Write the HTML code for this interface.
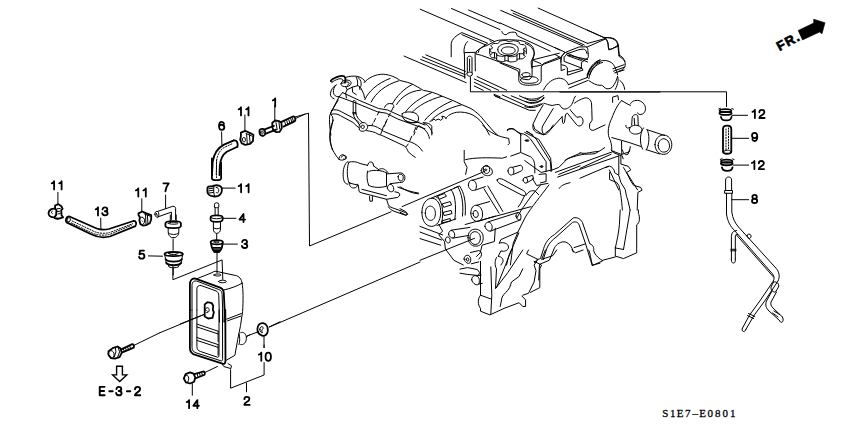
<!DOCTYPE html>
<html><head><meta charset="utf-8">
<style>
html,body{margin:0;padding:0;background:#fff;width:850px;height:425px;overflow:hidden}
svg{display:block}
.k{stroke-width:1.8}
.th{stroke-width:0.8}
.f{fill:#000}
.ar{stroke-width:1.4;stroke-linejoin:miter}
.dash{stroke-width:1;stroke-dasharray:1.2 1.6}
.w{fill:#fff}
</style></head><body>
<svg width="850" height="425" viewBox="0 0 850 425">
<g class="e" fill="none" stroke="#000" stroke-width="1.0" stroke-linecap="round" stroke-linejoin="round">
<path d="M 420.2 9.2 L 494.1 41.2"/>
<path d="M 451.5 8.5 L 500.0 29.6"/>
<path d="M 468.6 10.0 L 500.0 23.5"/>
<path d="M 490.0 40.9 L 491.2 41.5"/>
<path d="M 501.8 31.5 C 502.4 33.8 504.1 35.0 506.5 34.6 C 507.6 32.6 512.4 31.5 515.9 32.6 L 517.3 35.8 L 550.0 51.1"/>
<path d="M 451.2 56.8 L 451.2 43.8 C 451.8 39.1 455.9 35.6 461.8 32.6 L 487.6 43.2 L 479.2 49.5 L 478.2 52.6"/>
<path d="M 461.8 34.6 L 485.3 44.8"/>
<path d="M 464.1 53.2 C 463.5 48.5 464.7 43.8 467.6 41.5"/>
<path d="M 465.3 52.6 L 475.3 52.3"/>
<path d="M 475.1 53.0 L 475.3 70.9"/>
<path d="M 538.2 8.1 L 603.9 37.6 C 605.4 37.4 605.6 38.3 604.4 38.8 L 587.6 43.4"/>
<path d="M 586.6 47.2 L 605.9 38.8"/>
<path d="M 555.0 47.7 L 564.9 52.1 L 561.4 57.1 L 560.9 62.0"/>
<path d="M 565.9 52.6 L 587.6 62.0"/>
<path d="M 567.8 55.1 L 587.6 59.5"/>
<path d="M 603.9 37.6 C 607.4 37.3 612.3 37.8 615.3 40.3 C 617.3 42.2 618.2 44.7 618.2 48.7 L 619.2 56.6 C 621.2 57.6 623.2 59.0 625.0 61.5"/>
<path d="M 605.9 39.3 C 607.4 40.8 608.4 43.7 608.4 47.7 C 608.9 49.6 610.3 49.6 612.3 48.7 L 618.2 45.2"/>
<path d="M 560.8 57.7 L 561.6 56.1 C 563.2 54.0 564.9 52.8 566.5 51.9 L 578.9 47.0 L 586.3 46.8 C 587.5 47.4 587.9 48.6 587.9 50.7 L 588.1 53.6"/>
<path d="M 564.9 56.5 L 566.9 53.8 L 578.9 49.7 L 583.4 49.1 C 585.5 49.5 586.5 50.7 586.7 53.2"/>
<path d="M 567.4 55.6 L 581.4 60.6"/>
<path d="M 560.8 57.7 L 561.2 70.5"/>
<path d="M 564.1 56.9 L 564.1 61.4 L 581.4 68.0"/>
<path d="M 561.6 64.7 L 565.7 65.9 L 567.4 68.0 L 567.4 75.0"/>
<path d="M 561.6 70.5 L 564.9 69.2"/>
<path d="M 567.4 72.1 L 582.2 68.4 L 583.0 70.1 L 568.2 75.0"/>
<path d="M 588.1 53.6 L 588.4 56.5 L 587.9 58.1 L 583.8 60.2 L 583.4 61.4 L 581.4 62.2 L 581.4 68.0"/>
<path d="M 555.0 54.4 L 560.8 57.7"/>
<path d="M 587.1 75.0 C 589.6 67.2 593.7 62.2 600.0 59.8"/>
<path d="M 589.6 75.0 C 591.2 68.8 595.4 63.9 600.0 62.2"/>
<path d="M 500.0 22.9 L 560.0 50.0"/>
<path d="M 525.3 43.5 C 530.6 45.3 534.1 49.4 534.4 54.1 L 532.4 61.2 L 532.0 68.2"/>
<path d="M 500.0 62.9 L 517.6 70.6 L 518.8 72.9 L 518.8 80.6 C 519.4 84.1 523.5 85.3 529.4 85.3 L 536.5 84.7 C 540.0 84.1 541.2 81.8 541.2 80.0 L 541.2 67.1 L 543.5 63.5 L 559.4 57.1"/>
<path d="M 520.6 80.0 C 520.6 77.6 524.7 76.5 529.4 76.5 C 534.1 76.5 538.2 77.6 538.2 80.0 C 538.2 82.4 534.1 83.3 529.4 83.3 C 524.7 83.3 520.6 82.4 520.6 80.0 Z"/>
<path d="M 533.5 60.6 L 540.6 63.5"/>
<path d="M 543.5 90.0 C 547.1 82.4 552.9 78.8 558.8 78.2 C 563.5 78.2 566.5 80.6 568.2 84.1"/>
<path d="M 568.2 84.7 L 587.1 77.6"/>
<path d="M 568.8 88.2 L 587.6 80.6"/>
<path d="M 587.1 77.6 C 589.4 69.4 594.1 62.4 600.0 60.0"/>
<path d="M 587.1 77.6 C 588.2 69.4 594.1 62.4 602.4 60.6 C 607.1 60.0 611.8 61.8 613.5 64.7 C 615.3 67.1 616.5 70.6 617.6 74.7"/>
<path d="M 588.8 78.6 C 590.0 71.2 595.3 64.1 602.6 62.4"/>
<path d="M 588.8 80.6 C 592.9 83.5 596.5 85.3 600.0 85.3 C 602.4 84.7 603.5 86.5 605.3 88.2 C 607.1 89.4 610.6 88.8 612.4 87.1 C 615.3 83.5 616.5 80.0 617.6 76.5"/>
<path d="M 612.9 68.8 L 624.1 64.7"/>
<path d="M 613.5 71.2 L 624.7 67.1"/>
<path d="M 614.7 72.9 L 624.1 70.0"/>
<path d="M 617.6 76.5 C 618.8 78.8 618.2 83.5 615.3 89.4"/>
<path d="M 620.0 80.6 C 622.4 82.4 624.1 84.7 624.7 89.4"/>
<path d="M 560.0 92.0 L 660.0 92.0"/>
<path d="M 587.1 30.0 L 604.1 37.6"/>
<path d="M 604.7 38.0 C 608.2 37.1 614.1 37.6 616.5 40.6 C 618.2 42.9 618.8 46.5 618.8 50.6 L 619.4 55.3"/>
<path d="M 605.3 38.2 C 607.1 39.4 608.2 41.8 608.2 45.3 L 608.8 50.0 L 617.6 46.5"/>
<path d="M 618.8 55.3 C 622.4 55.9 624.7 59.4 625.3 64.1 C 625.3 67.6 623.5 70.0 618.8 71.2"/>
<path d="M 524.0 48.6 L 523.5 49.0 L 523.3 49.3 L 523.5 49.7 L 524.1 50.2 L 524.9 50.7 L 525.4 51.2 L 525.1 51.6 L 524.7 52.0 L 524.3 52.4 L 523.8 52.8 L 523.3 53.1 L 522.8 53.5 L 522.0 53.7 L 520.5 53.7 L 519.3 53.7 L 518.4 53.8 L 517.7 54.0 L 517.2 54.4 L 517.0 54.9 L 516.7 55.5 L 516.3 56.0 L 515.4 56.2 L 514.6 56.3 L 513.7 56.5 L 512.7 56.6 L 511.8 56.7 L 510.9 56.8 L 509.9 56.7 L 508.9 56.2 L 508.0 55.9 L 507.2 55.6 L 506.4 55.5 L 505.5 55.6 L 504.6 55.9 L 503.5 56.3 L 502.3 56.5 L 501.4 56.3 L 500.6 56.2 L 499.7 56.0 L 498.9 55.8 L 498.0 55.6 L 497.2 55.3 L 496.7 54.9 L 496.7 54.3 L 496.7 53.7 L 496.5 53.3 L 496.0 53.0 L 495.3 52.8 L 494.2 52.7 L 492.9 52.6 L 491.7 52.4 L 491.3 52.0 L 490.9 51.6 L 490.6 51.2 L 490.3 50.7 L 490.1 50.3 L 489.9 49.9 L 490.1 49.5 L 491.1 49.0 L 492.0 48.6 L 492.5 48.2 L 492.7 47.9 L 492.5 47.5 L 491.9 47.0 L 491.1 46.5 L 490.6 46.0 L 490.9 45.6 L 491.3 45.2 L 491.7 44.8 L 492.2 44.5 L 492.7 44.1 L 493.2 43.7 L 494.0 43.5 L 495.5 43.5 L 496.7 43.5 L 497.6 43.4 L 498.3 43.2 L 498.8 42.8 L 499.0 42.3 L 499.3 41.7 L 499.7 41.2 L 500.6 41.0 L 501.4 40.9 L 502.3 40.7 L 503.3 40.6 L 504.2 40.5 L 505.1 40.4 L 506.1 40.5 L 507.1 41.0 L 508.0 41.3 L 508.8 41.6 L 509.6 41.7 L 510.5 41.6 L 511.4 41.3 L 512.5 40.9 L 513.7 40.7 L 514.6 40.9 L 515.4 41.0 L 516.3 41.2 L 517.1 41.4 L 518.0 41.6 L 518.8 41.9 L 519.3 42.3 L 519.3 42.9 L 519.3 43.5 L 519.5 43.9 L 520.0 44.2 L 520.7 44.4 L 521.8 44.5 L 523.1 44.6 L 524.3 44.8 L 524.7 45.2 L 525.1 45.6 L 525.4 46.0 L 525.7 46.5 L 525.9 46.9 L 526.1 47.3 L 525.9 47.7 L 524.9 48.2 L 524.0 48.6 Z"/>
<path d="M 524.0 53.8 L 523.5 54.2 L 523.3 54.5 L 523.5 54.9 L 524.1 55.4 L 524.9 55.9 L 525.4 56.4 L 525.1 56.8 L 524.7 57.2 L 524.3 57.6 L 523.8 58.0 L 523.3 58.3 L 522.8 58.7 L 522.0 58.9 L 520.5 58.9 L 519.3 58.9 L 518.4 59.0 L 517.7 59.2 L 517.2 59.6 L 517.0 60.1 L 516.7 60.7 L 516.3 61.2 L 515.4 61.4 L 514.6 61.5 L 513.7 61.7 L 512.7 61.8 L 511.8 61.9 L 510.9 62.0 L 509.9 61.9 L 508.9 61.4 L 508.0 61.1 L 507.2 60.8 L 506.4 60.7 L 505.5 60.8 L 504.6 61.1 L 503.5 61.5 L 502.3 61.7 L 501.4 61.5 L 500.6 61.4 L 499.7 61.2 L 498.9 61.0 L 498.0 60.8 L 497.2 60.5 L 496.7 60.1 L 496.7 59.5 L 496.7 58.9 L 496.5 58.5 L 496.0 58.2 L 495.3 58.0 L 494.2 57.9 L 492.9 57.8 L 491.7 57.6 L 491.3 57.2 L 490.9 56.8 L 490.6 56.4 L 490.3 55.9 L 490.1 55.5 L 489.9 55.1 L 490.1 54.7 L 491.1 54.2 L 492.0 53.8"/>
<path d="M 523.9 50.0 L 523.9 55.2 M 519.6 53.7 L 519.6 58.9 M 517.0 54.7 L 517.0 59.9 M 508.2 56.0 L 508.2 61.2 M 504.9 55.8 L 504.9 61.0 M 496.7 53.9 L 496.7 59.1 M 494.5 52.7 L 494.5 57.9 M 526.3 48.6 L 526.3 53.8 M 489.7 48.6 L 489.7 53.8"/>
<path d="M 497.7 49.6 C 497.7 45.6 502.3 43.5 508.0 43.5 C 513.7 43.5 518.3 45.6 518.3 49.6 C 518.3 53.6 513.7 55.8 508.0 55.8 C 502.3 55.8 497.7 53.6 497.7 49.6 Z"/>
<path d="M 501.4 50.4 C 501.4 48.2 504.4 46.9 508.2 46.9 C 512.0 46.9 515.2 48.2 515.2 50.4 C 515.2 52.6 512.0 54.2 508.2 54.2 C 504.4 54.2 501.4 52.6 501.4 50.4 Z"/>
<path d="M 476.5 51.3 L 481.6 47.4 L 486.8 45.5 L 493.3 42.2 L 496.5 40.7 C 501.1 39.6 508.8 39.4 519.2 40.3 C 524.4 40.9 529.5 43.5 532.1 46.1 C 534.7 49.4 534.7 53.9 532.8 57.8 L 531.1 61.9 L 531.5 66.8"/>
<path d="M 476.5 51.3 L 475.8 53.9 L 481.6 55.4 L 519.8 69.4 L 519.8 72.0 C 519.2 75.2 519.8 77.8 523.1 79.1 L 528.2 79.8 C 530.8 79.1 532.1 77.2 532.1 74.6 L 532.1 66.8"/>
<path d="M 521.8 74.6 C 521.8 72.6 526.9 72.0 529.5 73.3 C 530.8 74.6 529.5 76.5 526.9 76.9 C 523.7 77.2 521.8 76.1 521.8 74.6 Z"/>
<path d="M 533.4 59.7 L 559.3 53.2"/>
<path d="M 532.1 66.8 L 539.9 65.5 L 559.9 58.4"/>
<path d="M 404.1 56.1 L 466.2 82.7"/>
<path d="M 420.6 59.4 L 465.3 77.1"/>
<path d="M 422.4 56.8 L 465.3 74.7"/>
<path d="M 425.9 54.9 L 465.3 71.4"/>
<path d="M 464.4 52.9 L 464.7 78.2"/>
<path d="M 338.2 100.0 L 331.2 111.8 C 330.0 113.5 330.6 114.7 332.4 116.5 C 333.5 118.8 332.4 123.5 331.2 128.2 C 329.4 135.3 330.0 142.4 332.4 150.0"/>
<path d="M 445.9 118.5 C 447.1 115.6 451.8 113.2 456.5 112.3 C 461.2 111.5 468.2 112.6 472.9 115.0 C 478.8 118.5 482.4 122.6 485.9 128.5 L 489.4 135.0"/>
<path d="M 431.8 120.9 L 434.1 119.1 L 435.3 120.3 L 438.8 119.1 L 440.6 120.3 L 442.9 118.5 L 441.8 116.2 L 444.7 116.8 L 445.9 118.5"/>
<path d="M 423.5 122.6 C 427.1 122.6 430.6 123.8 431.8 126.2 L 431.8 135.0"/>
<path d="M 494.1 94.4 L 500.0 96.8"/>
<path d="M 495.3 96.2 L 500.0 98.2"/>
<path d="M 494.1 95.4 L 529.4 110.3 L 535.3 110.3"/>
<path d="M 502.4 95.0 L 527.1 106.2 C 530.6 107.4 536.5 105.6 541.2 103.8"/>
<path d="M 511.2 95.8 L 529.4 103.2 C 532.9 103.8 538.8 102.6 541.8 100.3 L 543.5 97.4"/>
<path d="M 519.4 95.8 L 529.4 100.3 C 534.1 101.5 540.0 99.7 541.2 96.8"/>
<path d="M 507.1 129.7 C 508.2 128.5 511.8 127.9 514.1 129.1 L 521.2 135.0"/>
<path d="M 527.1 131.5 L 532.9 135.0"/>
<path d="M 555.3 172.4 L 614.1 151.2"/>
<path d="M 557.6 177.1 L 618.8 155.9"/>
<path d="M 564.7 160.6 C 567.1 158.2 571.8 157.1 576.5 155.9 L 581.2 154.7 C 585.9 153.5 590.6 154.7 595.3 153.5 L 601.2 150.0 L 604.7 147.6"/>
<path d="M 618.8 155.9 L 618.8 174.7"/>
<path d="M 609.4 170.0 L 618.8 190.0"/>
<path d="M 623.5 167.6 L 637.6 190.0"/>
<path d="M 524.7 132.4 L 538.8 139.4 L 550.6 158.2 L 551.8 170.0 L 541.2 172.4 L 524.7 160.6"/>
<path d="M 526.6 140.6 C 526.6 139.4 528.9 139.4 528.9 140.6 C 528.9 141.8 526.6 141.8 526.6 140.6 Z"/>
<path d="M 540.7 166.5 C 540.7 165.3 543.1 165.3 543.1 166.5 C 543.1 167.6 540.7 167.6 540.7 166.5 Z"/>
<path d="M 342.6 92.6 L 359.1 100.3 L 378.5 108.5 L 387.4 109.9 L 400.3 115.8 L 425.0 125.0"/>
<path d="M 339.1 96.8 L 357.9 103.8 L 377.4 111.8 L 386.2 113.2 L 397.9 119.1 L 425.0 128.8"/>
<path d="M 342.6 92.6 L 339.1 96.8 L 332.1 110.3"/>
<path d="M 331.5 110.3 C 334.4 109.1 337.9 109.7 341.5 111.8 L 352.1 117.4 C 355.0 119.1 356.8 120.3 359.1 122.6"/>
<path d="M 330.9 114.4 C 333.8 113.2 337.4 113.8 340.3 115.6 L 353.2 122.6 C 355.0 124.4 356.8 126.2 358.5 127.4"/>
<path d="M 379.1 111.5 L 377.4 115.0 M 375.6 118.5 L 373.8 122.1 M 372.6 123.8 L 372.1 125.0"/>
<path d="M 393.2 107.4 L 391.5 110.9 M 390.3 113.2 L 388.5 116.8 M 387.4 119.1 L 385.6 122.6 M 384.4 125.0 L 382.6 128.5"/>
<path d="M 417.9 126.2 L 416.2 129.7 M 415.0 132.1 L 413.8 135.0"/>
<path d="M 352.6 101.5 C 352.6 100.3 355.6 100.3 355.8 101.5 L 355.8 112.1 C 356.2 116.8 359.1 120.3 362.6 122.6"/>
<path d="M 353.2 102.6 L 353.2 113.2 C 353.8 117.9 356.8 121.5 359.7 125.0"/>
<path d="M 352.8 112.6 L 355.8 112.6 M 352.9 113.8 L 355.9 113.8"/>
<path d="M 359.1 126.2 C 359.1 123.8 361.5 122.1 364.4 122.6 C 367.4 123.8 368.5 126.8 366.8 129.1 C 365.0 131.5 361.5 132.1 359.7 130.3 Z"/>
<path d="M 360.9 126.8 C 360.9 125.6 362.4 124.8 363.6 125.2 C 364.8 126.2 364.4 127.9 363.2 128.5 C 362.1 128.8 360.9 127.9 360.9 126.8 Z"/>
<path d="M 332.1 110.3 L 329.7 115.6 C 329.1 120.3 329.7 127.4 330.9 135.0"/>
<path d="M 364.1 82.6 C 368.4 77.7 375.4 74.2 383.2 74.2 C 390.2 74.6 396.6 77.7 400.1 80.5 C 405.1 81.9 410.7 82.6 414.9 85.5 C 419.2 87.6 422.0 89.7 423.4 90.4 C 429.1 91.1 436.1 93.2 441.8 96.1 C 447.4 98.2 454.5 101.0 461.5 104.5 L 470.0 108.1 C 474.2 110.2 477.8 113.7 479.9 115.5 C 482.7 118.6 484.8 121.5 486.9 123.7 L 494.1 132.1 L 497.5 135.0"/>
<path d="M 364.8 99.6 C 368.4 91.8 376.8 83.4 390.2 78.4"/>
<path d="M 371.2 102.0 C 375.4 93.2 385.3 84.8 398.7 80.8"/>
<path d="M 392.4 103.8 C 396.6 96.1 403.6 89.0 412.1 84.5"/>
<path d="M 396.6 104.5 C 400.8 97.5 409.3 91.1 420.6 90.1"/>
<path d="M 405.8 111.6 C 410.7 104.5 420.6 97.5 431.9 92.5"/>
<path d="M 412.1 112.3 C 417.8 105.9 429.1 99.6 441.8 96.3"/>
<path d="M 424.8 120.3 C 430.5 113.0 440.4 105.9 451.6 101.1"/>
<path d="M 429.8 121.8 C 436.1 114.4 447.4 108.1 461.5 104.8"/>
<path d="M 384.6 107.4 C 385.3 105.2 387.0 103.8 389.5 103.5 L 392.4 103.8 C 393.5 104.5 394.0 105.9 393.8 107.4"/>
<path d="M 402.2 113.7 C 404.4 111.6 410.7 111.3 414.9 113.0 C 418.5 114.7 419.5 118.6 417.8 121.2 C 414.9 123.2 409.3 122.9 405.8 120.8 C 402.9 118.9 401.5 115.8 402.2 113.7 Z"/>
<path d="M 333.4 120.0 C 330.6 125.6 329.2 132.7 329.9 139.8 C 330.6 146.8 334.1 153.9 339.1 159.5"/>
<path d="M 339.1 159.5 C 338.4 157.4 339.8 155.3 342.6 154.6 C 344.7 155.0 346.1 156.7 345.4 158.8 C 344.0 160.2 341.2 160.7 339.1 159.5"/>
<path d="M 368.0 125.6 C 372.2 124.9 376.5 126.4 380.7 129.2 L 383.5 131.3 L 407.5 141.2 C 411.8 141.9 417.4 144.7 420.2 148.2 L 422.4 151.1"/>
<path d="M 366.6 130.6 C 370.8 131.3 375.1 132.0 377.9 134.1 L 382.1 135.5 L 404.7 146.1 C 406.1 147.5 407.5 149.6 408.2 151.8 C 410.4 153.9 413.2 156.0 415.3 157.4"/>
<path d="M 386.4 121.4 L 384.2 126.4 M 382.8 129.2 L 380.7 134.1"/>
<path d="M 416.0 127.1 L 413.9 132.0 M 411.8 136.2 L 409.6 141.2 M 408.2 144.0 L 406.1 146.8"/>
<path d="M 418.8 125.6 C 424.5 128.5 428.7 132.7 429.4 138.4"/>
<path d="M 423.1 122.8 C 427.3 124.2 431.5 128.5 432.2 133.4"/>
<path d="M 404.7 120.0 C 407.5 122.8 413.2 123.5 418.8 122.1"/>
<path d="M 347.9 161.6 C 344.1 163.5 342.8 170.1 343.2 176.7 C 343.6 181.4 345.1 184.2 347.9 184.2"/>
<path d="M 348.8 162.6 C 346.9 166.4 346.6 175.8 348.8 182.4"/>
<path d="M 348.8 162.2 C 352.6 161.1 356.4 161.6 360.1 163.5 L 367.6 165.4"/>
<path d="M 367.6 165.4 L 368.6 163.0 C 369.5 161.6 371.8 161.6 372.9 163.0 L 373.7 166.0"/>
<path d="M 348.8 182.9 L 358.2 185.2"/>
<path d="M 373.7 166.0 L 379.3 170.1"/>
<path d="M 367.6 171.1 C 366.7 174.8 366.7 180.5 368.6 185.2"/>
<path d="M 368.6 171.6 C 370.5 169.7 381.8 169.7 386.5 172.9"/>
<path d="M 368.6 185.2 C 371.4 188.0 382.7 188.0 386.5 186.1"/>
<path d="M 378.0 170.5 C 379.3 167.9 383.6 168.2 385.5 170.1 L 388.4 172.9"/>
<path d="M 386.5 172.9 L 386.5 186.1"/>
<path d="M 386.5 173.9 L 400.6 172.9 C 403.4 172.9 405.3 175.8 404.9 178.6 C 404.5 181.4 402.5 182.9 399.6 182.5 L 390.2 183.7"/>
<path d="M 398.1 176.7 C 398.1 174.4 400.6 173.5 402.5 175.0 C 403.8 176.7 403.4 179.9 401.5 181.0 C 399.6 181.4 398.1 179.5 398.1 176.7 Z"/>
<path d="M 387.4 188.0 C 387.4 185.2 389.3 183.9 391.2 184.4 C 393.6 185.6 394.4 189.3 393.1 191.2 C 391.2 192.7 388.0 191.2 387.4 188.0 Z"/>
<path d="M 358.2 185.2 L 359.2 191.8 L 361.1 192.7 L 386.5 199.3 L 397.8 197.4 L 400.0 195.0 L 398.7 192.7 L 394.9 191.8"/>
<path d="M 362.0 189.3 L 386.5 195.7"/>
<path d="M 369.5 196.5 L 369.9 201.2 L 372.4 201.2 L 372.4 196.5"/>
<path d="M 386.5 199.3 L 388.4 204.9 C 389.3 206.8 392.1 207.8 394.9 208.7 L 405.3 212.5 C 407.2 213.4 408.1 214.4 406.2 215.3 L 404.4 214.9 L 394.0 211.2 C 391.2 210.0 389.3 208.7 388.4 206.8"/>
<path d="M 397.8 187.1 C 405.3 189.9 410.9 191.8 418.5 193.1"/>
<path d="M 341.3 157.3 C 342.2 155.1 345.1 154.7 346.2 156.6 C 346.9 158.8 345.1 160.0 343.6 159.2"/>
<path d="M 349.8 182.4 C 348.8 185.2 350.7 188.0 353.5 188.0 C 356.4 188.0 357.9 186.1 357.3 184.2"/>
<path d="M 402.1 206.6 L 484.7 171.3"/>
<path d="M 481.2 170.6 C 481.2 167.1 484.7 165.6 488.2 166.4 C 491.8 167.8 493.2 171.3 491.8 174.1 C 489.6 176.2 485.4 176.2 483.3 174.1 C 481.9 173.0 481.2 172.0 481.2 170.6 Z"/>
<path d="M 484.7 169.9 C 484.7 168.8 486.4 168.5 486.8 169.6 C 487.0 170.7 485.4 171.3 484.7 169.9 Z"/>
<path d="M 400.0 186.8 C 405.6 190.4 411.3 193.2 418.4 193.9"/>
<path d="M 400.0 208.7 L 405.6 211.5 L 407.8 214.4 L 405.6 215.1 L 400.0 212.2"/>
<path d="M 482.6 125.0 C 486.8 130.6 495.3 135.6 505.2 137.7 L 508.7 138.4 L 509.4 143.4 L 508.0 144.8"/>
<path d="M 507.3 130.6 C 508.0 129.2 510.8 128.5 513.6 129.2 L 516.5 131.4 L 520.7 133.5"/>
<path d="M 520.7 133.5 L 520.7 151.8"/>
<path d="M 520.7 133.5 C 524.9 133.5 527.8 136.3 530.6 139.1 L 546.1 161.7 L 546.1 171.6"/>
<path d="M 526.4 131.4 C 530.6 132.8 533.4 136.3 536.2 139.1 L 550.4 161.7 L 551.1 171.6"/>
<path d="M 525.2 140.5 C 525.2 139.4 527.1 139.4 527.2 140.5 C 527.2 141.7 525.2 141.7 525.2 140.5 Z"/>
<path d="M 540.2 166.6 C 540.2 165.5 542.0 165.5 542.2 166.6 C 542.2 167.8 540.2 167.8 540.2 166.6 Z"/>
<path d="M 464.2 150.4 L 464.2 161.7 L 467.1 167.4 L 465.6 174.4"/>
<path d="M 465.6 159.6 C 474.1 157.5 488.2 157.5 502.4 158.2 L 506.6 156.8"/>
<path d="M 510.8 156.1 L 520.7 152.5 L 530.6 156.8 C 533.4 158.9 534.8 161.7 534.8 167.4 L 534.8 173.0"/>
<path d="M 508.0 170.9 C 508.0 168.1 510.1 166.6 512.2 167.4 C 514.4 168.8 514.4 173.0 512.5 174.7 C 510.5 175.8 508.0 174.1 508.0 170.9 Z"/>
<path d="M 512.2 167.4 L 520.7 165.2 C 522.8 165.9 523.2 169.5 521.4 170.9 L 513.6 174.4"/>
<path d="M 551.8 170.2 L 558.8 167.4 L 564.5 161.7 L 567.3 158.9 L 580.0 153.2"/>
<path d="M 558.8 174.4 L 580.0 165.9"/>
<path d="M 533.4 125.0 L 534.8 129.2 L 543.3 134.9 L 550.4 129.2 L 553.2 125.0"/>
<path d="M 539.1 174.4 L 546.1 173.7 L 546.1 181.5 L 540.5 182.9"/>
<path d="M 580.0 168.4 L 611.1 154.2"/>
<path d="M 580.0 178.2 L 608.2 166.2"/>
<path d="M 620.9 155.6 L 620.9 164.1 L 628.0 166.2 L 630.8 169.8 L 626.6 172.6 L 630.8 181.1 L 633.6 185.3 L 640.7 187.4 L 642.1 190.2 L 637.9 192.4 L 637.2 210.0"/>
<path d="M 605.4 167.6 L 609.6 166.2 C 612.5 166.9 614.6 169.8 614.6 172.6 L 618.8 175.4 L 620.9 182.5 L 625.2 189.5 L 626.6 196.6 L 628.0 200.8 L 630.1 210.0"/>
<path d="M 609.6 172.6 L 609.6 179.6 L 616.7 182.5 L 618.8 185.3 C 620.2 189.5 621.6 199.4 622.4 210.0"/>
<path d="M 580.0 152.8 C 584.2 154.2 588.5 152.8 592.7 152.1 L 598.4 151.4"/>
<path d="M 611.1 150.0 L 613.9 152.8 L 620.9 155.6"/>
<path d="M 622.4 150.0 C 623.8 154.2 625.2 155.6 628.0 154.2 L 629.4 150.0"/>
<path d="M 480.5 261.3 L 480.5 295.2 C 477.6 298.9 477.6 304.6 480.5 308.4 L 480.5 311.2 L 489.9 314.9 L 504.0 308.4 L 519.1 302.7 L 522.8 306.5 L 525.6 306.5 L 525.6 299.9 L 521.9 296.1"/>
<path d="M 490.8 266.9 L 491.8 295.2 L 490.8 314.0"/>
<path d="M 480.5 295.2 L 490.8 298.9"/>
<path d="M 496.5 257.5 C 494.6 261.3 494.6 265.1 496.5 268.8 L 495.5 288.6 L 502.1 280.1 L 507.8 272.6 L 522.8 250.0"/>
<path d="M 511.5 250.0 L 496.5 287.6"/>
<path d="M 500.2 306.5 L 502.1 297.1 C 504.0 293.3 507.8 291.4 509.6 287.6 L 511.5 282.0 L 519.1 276.4 L 522.8 268.8"/>
<path d="M 528.5 250.0 L 526.6 253.8 L 537.9 259.4 L 534.1 265.1 L 536.0 270.7 L 534.1 282.0 L 528.5 293.3 L 522.8 295.2"/>
<path d="M 534.1 261.3 L 541.6 265.1 L 539.8 268.8 L 539.8 287.6 L 530.4 292.4"/>
<path d="M 545.4 250.0 L 541.6 259.4 L 552.9 255.6 L 556.7 250.0"/>
<path d="M 571.8 250.0 L 575.5 252.8 L 583.1 250.0"/>
<path d="M 588.7 250.0 C 590.6 253.8 590.6 259.4 592.5 265.1 L 600.0 263.2"/>
<path d="M 543.8 103.2 C 546.2 103.8 548.5 104.9 552.1 105.5 C 555.6 104.9 557.9 103.8 559.7 104.9 C 560.9 107.3 562.6 109.1 565.0 109.1 C 568.5 108.5 571.5 106.1 573.2 101.4 C 573.8 99.1 574.4 97.3 575.6 96.1"/>
<path d="M 543.2 104.9 L 537.9 113.8 L 533.2 123.8 C 532.1 127.3 533.2 130.8 536.8 132.6 L 542.6 134.4 C 545.0 134.9 546.2 134.4 547.4 133.2 L 562.1 116.7"/>
<path d="M 553.2 108.5 L 542.6 126.1 C 541.5 129.6 542.1 132.6 543.8 134.4"/>
<path d="M 562.1 116.7 L 562.6 122.6 C 562.9 123.8 563.8 123.8 564.4 122.6 L 565.6 114.4 L 567.4 113.2 L 572.1 119.1 L 576.8 124.9 C 578.5 126.7 581.5 126.1 582.6 123.8 C 583.8 120.2 582.6 117.3 580.3 116.7 L 576.8 117.3 L 570.9 110.8 L 570.3 109.6"/>
<path d="M 574.4 103.2 C 576.8 101.4 580.3 99.1 585.0 97.9 C 587.4 97.6 589.1 98.5 590.3 100.2 L 591.5 102.6 L 591.8 109.6 L 592.1 120.2 L 589.7 123.8 L 589.5 127.3 C 589.7 129.6 591.5 130.8 593.8 130.2 L 605.0 124.9"/>
<path d="M 525.0 97.9 C 529.7 100.2 537.9 99.6 543.8 95.5"/>
<path d="M 525.0 101.4 C 530.9 103.8 539.1 102.6 544.4 97.9"/>
<path d="M 525.0 106.7 C 529.7 108.5 536.8 107.9 542.6 103.8"/>
<path d="M 534.6 262.7 C 535.4 259.4 538.7 259.4 540.4 258.6 L 543.6 248.7 C 545.3 242.9 548.6 238.0 554.4 234.7 L 573.3 217.9 C 577.4 216.9 580.7 219.1 582.4 222.4 L 589.8 243.8 C 593.1 244.9 594.2 247.9 593.6 250.8 C 594.7 254.1 597.2 256.9 600.5 259.4 L 602.9 260.7 L 592.2 265.7 L 591.4 262.7"/>
<path d="M 543.2 259.7 L 546.9 248.2 C 549.1 242.9 552.4 240.0 556.0 237.2 L 572.5 222.4 C 575.8 221.2 578.2 222.4 579.1 224.8 L 585.6 243.8 L 574.1 247.6"/>
<path d="M 573.3 252.0 C 572.5 247.6 570.0 243.8 565.9 242.1 C 560.9 241.0 556.8 243.8 554.4 247.9 L 551.1 256.1 L 549.4 260.2 L 539.5 264.4 L 538.7 280.0"/>
<path d="M 585.6 243.8 L 589.8 257.8 L 591.4 262.7"/>
<path d="M 615.3 247.9 C 616.9 241.3 618.6 233.1 619.4 224.8 L 620.2 210.0"/>
<path d="M 623.5 249.5 C 625.2 239.6 626.8 229.8 628.5 219.9 L 630.1 210.0"/>
<path d="M 615.3 247.9 L 623.5 249.5"/>
<path d="M 615.3 247.9 L 615.3 256.1 L 623.5 258.6 L 636.7 252.8 L 636.7 224.8 C 640.0 223.2 640.0 216.6 638.4 213.3 L 638.4 210.0"/>
<path d="M 602.9 260.2 L 615.3 256.9"/>
<path d="M 330.8 81.1 C 331.2 79.4 334.1 78.2 337.4 76.9 C 340.2 75.9 342.7 75.5 344.4 76.5 C 345.6 77.8 345.6 80.6 344.8 82.7" class="k"/>
<path d="M 332.0 82.3 C 333.2 81.1 335.7 79.8 338.6 79.0 C 340.6 78.6 342.3 78.6 342.7 79.8 C 343.1 81.1 342.7 82.3 341.9 82.7"/>
<path d="M 330.8 81.1 C 330.9 81.9 331.6 82.5 332.0 82.3"/>
<path d="M 341.1 83.5 C 341.5 80.6 344.8 79.8 348.1 80.2 C 350.9 80.6 351.8 82.7 350.5 84.8 C 348.9 86.8 344.8 87.2 342.3 86.0 C 341.1 85.2 340.8 84.4 341.1 83.5 Z"/>
<path d="M 342.7 83.5 C 343.5 81.9 346.4 81.5 348.5 82.3 C 349.7 83.1 349.3 84.8 347.6 85.2"/>
<path d="M 345.6 77.4 C 348.9 76.1 354.6 75.7 357.9 76.5 C 361.2 77.4 363.7 79.0 365.4 81.9"/>
<path d="M 356.3 77.4 C 357.5 79.4 357.9 82.3 357.5 85.6"/>
<path d="M 357.9 77.4 C 359.6 78.6 361.2 80.6 361.2 83.9 C 361.2 86.4 360.4 87.2 359.6 87.6"/>
<path d="M 336.5 84.8 C 333.2 86.4 330.8 89.7 330.4 93.8 C 330.4 96.3 331.6 97.9 334.1 98.8"/>
<path d="M 334.9 86.4 C 333.2 88.9 332.8 92.2 334.1 94.6 C 335.3 96.3 337.4 97.1 339.4 96.7"/>
<path d="M 345.6 86.4 L 347.2 89.7 L 345.6 93.0 L 346.4 97.9"/>
<path d="M 347.2 89.7 L 352.2 87.2 L 357.9 85.6 L 360.4 87.2 L 363.7 93.8 L 364.5 97.9"/>
<path d="M 352.2 87.2 L 352.6 92.2 L 356.3 94.6"/>
<path d="M 359.6 87.6 L 360.0 89.7"/>
<path d="M 421.9 212.3 C 421.9 203.8 426.6 198.2 432.2 198.2 C 437.9 198.6 441.1 205.7 440.7 213.2 C 440.3 220.8 436.9 226.4 431.3 226.4 C 425.6 226.0 421.9 220.8 421.9 212.3 Z"/>
<path d="M 425.3 213.2 C 425.3 208.5 427.5 206.1 430.4 206.1 C 433.6 206.5 435.4 209.5 435.4 213.6 C 435.4 217.9 433.2 220.4 430.4 220.4 C 427.5 220.0 425.3 217.4 425.3 213.2 Z"/>
<path d="M 431.3 198.2 L 451.1 189.7 M 436.9 225.5 L 455.8 218.9"/>
<path d="M 435.1 196.3 C 441.6 198.2 444.5 209.5 441.6 223.6"/>
<path d="M 451.1 189.7 C 454.8 194.4 456.7 203.8 454.8 219.8"/>
<path d="M 437.9 195.9 L 444.5 193.5 L 446.4 196.3 L 439.8 199.1 Z M 442.6 203.8 L 450.1 201.6 L 451.6 204.8 L 444.1 207.2 Z M 443.5 212.3 L 451.1 210.4 L 452.0 213.6 L 444.5 215.5 Z M 442.2 220.8 L 450.1 218.5 L 450.5 221.1 L 443.0 222.6 Z"/>
<path d="M 451.1 189.7 L 459.5 185.9 C 464.2 192.5 466.1 201.9 465.2 215.1"/>
<path d="M 453.9 188.4 L 457.6 186.5 C 461.8 193.5 463.7 202.9 462.5 216.1"/>
<path d="M 470.8 213.2 C 470.8 207.6 473.6 204.8 476.8 205.3 C 480.6 206.1 483.1 210.4 482.5 216.1 C 481.7 220.4 478.7 222.3 475.5 221.1 C 472.7 220.0 470.8 217.0 470.8 213.2 Z"/>
<path d="M 473.1 213.6 C 473.1 211.4 474.6 210.0 476.1 210.6 C 478.0 211.4 478.7 214.2 478.0 216.2 C 477.0 217.8 475.0 217.8 473.8 216.2 C 473.3 215.5 473.1 214.7 473.1 213.6 Z"/>
<path d="M 476.5 205.3 L 489.6 201.6"/>
<path d="M 479.9 220.8 L 495.3 216.1"/>
<path d="M 484.0 188.8 L 499.1 213.2"/>
<path d="M 487.8 185.9 L 502.8 211.4"/>
<path d="M 484.9 226.4 C 484.9 223.6 486.8 221.7 489.3 222.3 C 491.9 223.2 493.0 227.4 491.5 230.2 C 490.0 232.1 486.3 231.1 484.9 226.4 Z"/>
<path d="M 488.1 221.9 L 517.9 212.5"/>
<path d="M 490.6 231.1 L 520.7 219.8"/>
<path d="M 516.0 216.1 C 516.0 213.6 517.5 212.3 519.0 212.7 C 520.9 213.6 521.6 217.0 520.5 219.3 C 519.2 220.8 516.4 219.3 516.0 216.1 Z"/>
<path d="M 465.2 224.5 L 531.1 206.6"/>
<path d="M 468.0 237.7 C 468.0 232.1 470.8 229.2 475.5 229.2 C 480.2 229.4 483.6 233.0 483.2 238.6 C 482.9 243.4 479.9 246.2 475.5 246.2 C 471.2 246.0 468.0 242.4 468.0 237.7 Z"/>
<path d="M 469.9 238.1 C 469.9 233.9 472.1 231.7 475.2 231.7 C 478.4 231.9 480.6 234.5 480.4 238.6 C 480.2 242.4 478.0 244.5 475.2 244.5 C 472.1 244.3 469.9 241.8 469.9 238.1 Z"/>
<path d="M 448.6 234.3 C 448.6 231.7 450.1 230.2 452.0 230.6 C 454.3 231.3 455.4 234.9 454.3 237.3 C 452.9 238.8 449.4 237.7 448.6 234.3 Z"/>
<path d="M 451.1 230.2 L 469.9 227.4"/>
<path d="M 452.9 238.1 L 468.9 235.4"/>
<path d="M 445.4 240.0 C 445.4 237.7 446.7 236.6 448.2 237.0 C 450.1 237.7 450.9 240.7 449.7 242.4 C 448.4 243.7 446.0 242.6 445.4 240.0 Z"/>
<path d="M 420.0 260.3 L 474.6 238.3"/>
<path d="M 420.0 226.4 L 442.6 234.9"/>
<path d="M 420.0 232.1 L 441.6 240.0"/>
<path d="M 420.0 238.6 L 440.7 245.2"/>
<path d="M 438.8 224.5 L 442.6 231.1 L 438.8 234.9 L 444.5 241.5 L 445.4 249.0 L 453.9 260.3 L 463.3 265.0"/>
<path d="M 517.9 232.1 L 500.9 239.6 L 499.1 243.4 C 502.8 241.5 508.5 243.4 508.5 247.1 C 508.5 250.9 503.8 251.8 500.9 250.9 L 498.1 256.5 C 501.9 256.5 503.8 259.4 502.8 262.2 L 500.9 265.0"/>
<path d="M 518.8 233.0 L 508.5 256.5 L 506.6 265.0"/>
<path d="M 548.9 185.0 C 540.5 196.3 531.1 207.6 525.4 217.0 L 517.9 232.1 L 513.2 243.4 L 510.4 265.0"/>
<path d="M 540.5 185.0 L 531.1 196.3 L 521.6 209.5 L 516.9 217.9"/>
<path d="M 495.3 228.3 L 494.4 241.5 L 482.1 245.2 L 480.2 252.8 L 476.5 256.5"/>
<path d="M 612.6 102.4 L 612.6 97.1 L 617.9 95.6 L 618.5 99.7"/>
<path d="M 621.5 100.6 C 617.9 104.1 614.4 111.2 611.8 118.2 C 608.2 125.3 607.4 132.4 609.1 137.6 C 610.9 141.2 611.8 144.7 611.8 150.9 L 621.5 154.4 L 629.4 151.8 L 630.3 146.5"/>
<path d="M 621.5 100.6 L 630.3 105.5"/>
<path d="M 630.3 104.1 C 631.2 101.5 634.7 99.7 639.1 100.6 C 643.5 102.0 646.2 105.9 645.3 110.3 C 644.4 113.8 641.8 114.7 639.1 114.4 L 637.4 112.9"/>
<path d="M 629.4 129.7 C 629.4 127.1 632.4 125.3 635.6 125.3 C 639.1 125.3 641.8 127.1 641.8 129.7 C 641.8 132.4 639.1 134.1 635.6 134.1 C 632.4 134.1 629.4 132.4 629.4 129.7 Z"/>
<path d="M 631.7 125.3 L 632.1 118.2 C 632.4 114.7 636.5 113.3 637.9 116.1 L 638.2 125.3"/>
<path d="M 634.2 118.2 L 634.7 124.9"/>
<path d="M 625.9 125.3 C 625.4 127.1 626.8 128.5 628.5 127.9 L 630.3 127.1"/>
<path d="M 643.5 127.9 C 640.0 132.4 639.1 142.9 642.6 149.1"/>
<path d="M 647.1 129.7 C 649.7 134.1 649.7 144.7 646.2 150.0"/>
<path d="M 647.1 129.7 L 664.7 135.5"/>
<path d="M 646.2 149.6 L 659.4 153.9"/>
<path d="M 655.0 144.7 C 655.0 139.4 658.5 135.0 663.5 135.0 C 668.2 135.0 671.8 139.4 671.8 144.7 C 671.8 150.0 668.2 154.4 663.5 154.4 C 658.5 154.4 655.0 150.0 655.0 144.7 Z"/>
<path d="M 658.2 145.6 C 658.2 141.5 660.8 138.7 663.8 138.7 C 667.4 139.1 669.5 142.2 669.5 145.8 C 669.5 149.6 667.0 152.1 663.8 152.1 C 660.6 152.1 658.2 149.3 658.2 145.6 Z"/>
<path d="M 611.8 137.6 L 621.5 140.3 L 630.3 142.9 L 640.9 146.5"/>
<path d="M 621.5 141.2 L 621.8 155.3 L 623.2 158.8"/>
<path d="M 587.6 43.4 L 511.0 10.0"/>
<path d="M 513.0 13.2 L 584.3 45.0"/>
<path d="M 500.7 10.4 L 582.7 45.9"/>
<path d="M 467.3 73.0 L 467.3 58.0 C 467.3 55.6 472.0 55.6 472.0 58.0 L 472.0 73.0"/>
<path d="M 466.8 73.5 C 466.8 71.6 472.5 71.6 472.5 73.5 L 472.0 75.2 C 471.0 76.6 468.0 76.6 467.3 75.2 Z"/>
<path d="M 469.6 59.0 L 469.6 71.0"/>
<path d="M 477.1 76.6 L 506.7 90.3"/>
<path d="M 474.3 79.0 L 498.7 90.3"/>
<path d="M 474.3 82.3 L 490.7 90.3"/>
<path d="M 474.3 86.0 L 483.2 90.3"/>
<path d="M 227.6 320.8 L 240.8 316.1"/>
<path d="M 242.1 283.2 C 243.3 290.0 243.3 300.0 242.6 311.5 L 240.5 325.6 L 237.7 339.7 L 234.9 355.3 L 226.6 360.1"/>
<path d="M 468.4 185.2 C 468.4 181.6 470.5 179.8 472.9 180.2 C 475.7 180.9 477.1 184.9 476.1 188.3 C 475.1 190.8 472.6 191.1 470.9 189.7 C 469.2 188.4 468.4 187.0 468.4 185.2 Z"/>
<path d="M 472.6 180.2 L 483.2 177.0 M 475.4 190.1 L 485.3 186.6"/>
<path d="M 523.1 180.2 C 523.1 178.1 524.5 177.0 526.0 177.4 C 527.6 178.1 528.1 181.2 526.9 182.8 C 525.8 183.8 523.4 182.6 523.1 180.2 Z"/>
<path d="M 526.0 177.4 L 532.6 175.3 L 533.6 178.8 L 527.6 182.4"/>
<path d="M 483.2 168.9 C 483.2 166.1 485.3 165.1 487.0 165.4 C 489.2 166.1 490.2 168.9 489.5 171.3 C 488.8 173.2 486.7 173.9 485.3 173.2 C 483.9 172.5 483.2 171.1 483.2 168.9 Z"/>
<path d="M 464.1 259.1 C 464.1 255.9 466.4 254.8 468.7 255.5 C 470.9 256.7 471.3 260.4 470.0 262.7 C 468.5 264.2 465.3 263.1 464.1 259.1 Z"/>
<path d="M 466.2 259.3 C 466.2 258.2 467.2 257.6 468.1 258.0 C 469.0 258.6 469.0 260.4 468.3 261.0 C 467.3 261.4 466.4 260.6 466.2 259.3 Z"/>
<path d="M 460.0 269.1 L 467.5 267.6 L 477.3 269.5 L 479.6 272.5 L 478.4 275.5 L 467.5 274.4 L 460.0 273.2"/>
<path d="M 471.7 279.8 C 471.7 276.6 473.9 275.1 476.6 275.9 C 479.4 277.0 480.1 281.1 478.8 284.0 C 477.3 285.8 472.8 284.5 471.7 279.8 Z"/>
<path d="M 476.6 275.9 L 481.1 275.1 M 478.8 284.0 L 482.2 283.4"/>
<path d="M 470.4 252.5 L 478.8 250.6 C 481.1 251.0 482.2 253.5 481.1 256.3 L 478.8 259.1"/>
<path d="M 471.3 263.8 L 478.8 261.9"/>
<path d="M 497.1 179.9 C 497.8 178.2 500.6 178.2 503.4 179.6 L 523.2 190.5 C 526.0 191.9 526.4 194.7 524.6 195.7 L 521.8 195.1 L 502.0 184.8 C 499.2 183.4 497.1 182.0 497.1 179.9 Z"/>
<path d="M 524.6 195.7 L 520.4 203.9 L 518.2 207.0"/>
<path d="M 526.0 195.4 C 528.1 191.2 532.4 189.8 535.2 191.2 L 538.7 194.7"/>
<path d="M 532.4 178.5 L 536.6 185.5 L 547.9 183.4"/>
<path d="M 559.2 188.4 C 560.6 186.2 563.4 184.1 570.0 182.7"/>
<path d="M 470.4 77.0 L 470.4 91.8 L 726.5 91.8 L 726.5 106.5"/>
<path d="M 731.8 115.3 L 747.6 115.3"/>
<path d="M 731.7 138.3 L 748.7 138.3"/>
<path d="M 733.2 165.1 L 748.7 165.1"/>
<path d="M 731.8 199.7 L 748.7 199.7"/>
<path d="M 295.0 117.0 L 308.5 113.2 L 309.5 246.0 L 391.0 211.8"/>
<path d="M 269.5 327.0 L 420.0 262.0"/>
<path d="M 719.6 110.8 C 719.6 108.6 731.4 108.6 731.4 110.8 C 731.4 112.6 719.6 112.6 719.6 110.8 Z" class="k"/>
<path d="M 719.4 113.2 C 719.4 111.4 731.6 111.4 731.6 113.2 C 731.6 115.4 719.4 115.4 719.4 113.2 Z" class="k"/>
<path d="M 718.8 109.0 L 720.5 108.3 M 733.4 109.2 L 731.8 108.5"/>
<path d="M 721.0 117.0 C 721.5 121.5 731.0 121.5 731.5 117.0" class="k"/>
<path d="M 721.0 161.2 C 721.0 159.0 732.4 159.0 732.4 161.2 C 732.4 163.0 721.0 163.0 721.0 161.2 Z" class="k"/>
<path d="M 720.8 163.6 C 720.8 161.8 732.6 161.8 732.6 163.6 C 732.6 165.8 720.8 165.8 720.8 163.6 Z" class="k"/>
<path d="M 720.3 159.4 L 722.0 158.7 M 734.2 159.6 L 732.6 158.9"/>
<path d="M 722.0 167.4 C 722.5 171.9 732.0 171.9 732.5 167.4" class="k"/>
<path d="M 723.0 151.5 L 723.0 129.0 C 723.0 124.5 731.3 124.5 731.3 129.0 L 731.3 151.5 C 731.3 154.5 723.0 154.5 723.0 151.5 Z" class="k"/>
<path d="M 723.6 151.8 C 724.0 149.5 730.6 149.5 730.8 151.8"/>
<path d="M 726.0 129.0 L 726.0 150.0 M 728.5 128.0 L 728.5 150.0" class="dash"/>
<path d="M 725.6 190.5 L 725.6 180.0 C 725.6 176.0 731.6 176.0 731.6 180.0 L 731.6 190.5"/>
<path d="M 725.0 190.5 L 732.5 190.5 L 732.5 193.3 L 725.0 193.3 Z"/>
<path d="M 726.5 193.3 L 726.5 214.0 C 727.5 222.0 731.0 227.0 734.5 230.5 L 772.5 273.9 C 774.5 276.5 774.5 279.0 773.0 281.5 L 760.5 300.0 L 749.4 315.3 L 742.4 328.2"/>
<path d="M 731.8 193.3 L 731.8 212.0 C 732.5 218.0 735.0 223.0 738.5 227.0 L 776.0 268.2 C 779.5 272.0 780.0 277.0 778.0 281.0 L 765.4 300.0 L 754.1 315.3 L 745.9 329.4"/>
<path d="M 736.5 235.0 L 773.5 277.0"/>
<path d="M 742.4 328.2 C 741.0 332.0 745.0 333.0 745.9 329.4"/>
<path d="M 748.5 313.5 L 754.8 316.5 M 747.6 315.6 L 753.7 318.6"/>
<path d="M 773.5 282.0 L 771.0 287.0 C 770.5 290.0 773.0 292.5 775.5 292.0 L 778.5 287.0 C 779.5 284.0 777.0 281.0 773.5 282.0 Z"/>
<path d="M 772.0 291.0 L 766.5 301.0 C 765.0 305.0 766.0 308.0 769.0 311.0 L 779.5 320.5"/>
<path d="M 776.5 292.0 L 771.0 302.0 C 770.5 304.5 771.0 306.0 773.0 308.0 L 782.5 317.0"/>
<path d="M 779.5 320.5 C 780.5 324.5 785.0 322.0 782.5 317.0"/>
<path d="M 774.0 311.0 L 779.5 314.5 M 772.5 313.0 L 778.0 317.0"/>
<path d="M 731.4 259.0 L 731.4 236.5 C 731.6 232.5 733.5 230.5 736.5 230.5"/>
<path d="M 735.3 259.0 L 735.3 237.0 C 735.3 235.0 736.0 234.0 737.8 234.5"/>
<path d="M 731.4 259.0 L 731.6 261.5 C 732.0 263.5 735.0 263.5 735.2 261.5 L 735.3 259.0"/>
<path d="M 730.8 249.3 L 736.0 249.3 M 730.8 250.8 L 736.0 250.8"/>
<path d="M 747.0 235.5 C 747.0 233.5 751.0 233.5 751.0 236.0 C 751.0 239.5 747.5 239.5 747.0 235.5 Z"/>
<path d="M 57.9 192.4 L 57.9 203.6"/>
<path d="M 55.5 208.8 C 52.2 207.9 48.9 209.8 48.5 213.1 C 48.5 215.4 50.4 217.3 53.2 217.3" class="k"/>
<path d="M 52.2 211.2 C 51.1 211.6 51.1 213.1 52.2 213.5"/>
<path d="M 55.1 205.5 L 58.4 204.1 L 61.6 206.5 L 62.6 208.8 L 61.2 210.2 L 61.6 215.4 L 63.1 217.3 L 58.8 218.7 L 55.1 218.2 L 54.1 217.3 L 56.0 215.4 L 56.5 210.2 L 55.1 208.4 Z" class="k"/>
<path d="M 57.4 208.8 L 60.2 208.4 M 57.4 211.6 L 59.8 211.2 M 57.9 214.0 L 60.2 213.5"/>
<path d="M 53.2 217.3 L 55.1 218.7 L 57.9 219.4"/>
<path d="M 100.7 218.2 L 100.9 229.7"/>
<path d="M 68.9 216.3 L 96.7 228.5 C 100.5 229.9 105.2 229.9 108.9 229.0 L 133.4 221.0 C 135.8 220.5 137.2 223.4 135.3 226.2 L 109.9 236.5 C 104.2 237.9 97.6 237.5 91.1 234.2 L 66.6 222.4 C 65.2 221.0 65.6 216.8 68.9 216.3 Z" class="k"/>
<path d="M 67.1 219.1 C 67.5 217.7 69.4 217.2 70.4 218.6 C 70.8 220.5 69.4 222.4 68.0 221.9 C 67.1 221.5 66.8 220.1 67.1 219.1 Z"/>
<path d="M 72.2 221.0 L 93.9 231.4 C 99.5 233.7 105.2 233.7 109.9 232.5 L 132.5 223.8" class="dash"/>
<path d="M 71.3 222.9 L 92.0 233.0 C 98.6 235.6 104.2 235.6 109.9 234.4 L 131.5 225.2" class="dash"/>
<path d="M 141.8 198.8 L 141.8 211.9"/>
<path d="M 138.5 213.4 L 142.2 211.5 L 146.5 213.4 L 151.2 215.2 L 151.2 219.5 L 149.8 223.2 L 146.0 225.1 L 143.2 225.6 L 140.4 224.2 L 139.4 220.4 L 139.9 217.1 L 138.5 215.2 Z" class="k"/>
<path d="M 139.4 219.7 C 139.4 217.6 141.3 216.6 143.2 217.6 C 145.1 219.0 145.1 222.8 143.2 224.2 C 141.3 225.1 139.4 223.2 139.4 219.7 Z"/>
<path d="M 142.2 220.9 L 142.7 221.4"/>
<path d="M 145.5 214.8 L 146.0 224.2 M 147.4 215.2 L 147.9 223.2 M 144.1 213.8 L 150.2 216.2"/>
<path d="M 165.6 195.0 L 165.6 208.6"/>
<path d="M 157.3 211.5 L 172.8 206.3 C 174.7 206.1 175.6 207.2 175.6 208.6 L 175.6 219.5"/>
<path d="M 158.2 216.8 L 171.4 212.1 L 171.4 219.5"/>
<path d="M 154.9 214.3 C 154.7 211.9 156.4 211.0 157.8 211.5 C 159.0 212.4 159.2 215.7 158.2 217.1 C 157.1 218.1 155.2 216.8 154.9 214.3 Z"/>
<path d="M 156.5 213.4 L 157.3 216.2"/>
<path d="M 170.3 215.0 L 170.3 220.9 M 176.2 215.0 L 176.2 220.9"/>
<path d="M 165.4 223.5 C 165.4 220.4 180.9 220.4 180.9 223.5 L 180.9 226.0 C 180.9 228.8 165.4 228.8 165.4 226.0 Z" class="k"/>
<path d="M 168.2 223.2 C 168.2 221.8 178.1 221.8 178.1 223.2 C 178.1 224.6 168.2 224.6 168.2 223.2 Z"/>
<path d="M 168.2 228.4 L 168.2 231.9 C 168.2 234.8 169.6 236.2 171.4 237.6 L 175.2 237.6 C 177.4 236.2 178.8 234.8 178.8 231.9 L 178.8 228.4"/>
<path d="M 168.6 233.1 C 171.4 235.0 175.7 235.0 178.5 233.1"/>
<path d="M 173.1 239.0 L 173.1 250.3"/>
<path d="M 148.4 255.9 L 162.5 256.2"/>
<path d="M 164.5 254.0 C 164.5 251.3 182.9 251.3 182.9 254.0 C 182.9 256.8 164.5 256.8 164.5 254.0 Z" class="k"/>
<path d="M 168.7 253.6 C 168.7 252.2 177.8 252.2 177.8 253.6 C 177.8 255.0 168.7 255.0 168.7 253.6 Z"/>
<path d="M 164.7 254.7 L 165.6 259.2 M 182.7 254.7 L 181.8 259.2"/>
<path d="M 165.6 259.2 C 167.6 262.3 179.8 262.3 181.8 259.2" class="k"/>
<path d="M 166.2 262.9 C 168.7 266.0 178.8 266.0 181.2 262.9" class="k"/>
<path d="M 165.6 259.2 L 166.2 262.9 M 181.8 259.2 L 181.2 262.9"/>
<path d="M 168.4 265.1 L 169.0 266.9 C 171.4 268.1 176.0 268.1 178.4 266.9 L 179.1 265.1"/>
<path d="M 173.2 267.8 L 173.2 275.0"/>
<path d="M 172.9 266.0 L 172.9 279.7 L 222.1 259.9 L 222.8 279.5"/>
<path d="M 217.0 252.8 L 217.0 273.0"/>
<path d="M 212.2 272.6 C 212.9 271.6 214.6 271.2 216.0 271.3 L 235.1 275.4 C 239.3 276.1 241.4 278.9 242.1 283.2"/>
<path d="M 223.8 290.0 C 230.8 288.5 237.9 285.7 242.1 283.2"/>
<path d="M 196.9 278.7 L 212.2 272.6"/>
<path d="M 189.9 310.0 L 189.9 284.6 C 189.9 280.4 192.0 277.8 195.5 278.7 L 219.5 287.4 C 222.4 288.5 223.8 290.2 223.8 293.1 L 225.2 322.0" class="k"/>
<path d="M 192.0 310.0 L 192.0 285.3 C 192.0 282.0 194.1 280.4 196.9 281.1 L 218.8 289.5 C 220.9 290.2 222.1 291.9 222.1 294.5 L 223.1 322.0"/>
<path d="M 196.9 310.0 L 196.9 288.8 C 196.9 286.3 199.1 284.9 201.2 285.6 L 216.0 290.9 C 217.8 291.6 218.8 293.3 218.8 295.9 L 219.5 322.0"/>
<path d="M 213.9 275.0 C 213.9 273.6 220.9 273.6 220.9 275.0 C 220.9 276.4 213.9 276.4 213.9 275.0 Z"/>
<path d="M 218.4 281.5 C 218.4 279.8 226.3 279.8 226.3 281.5 C 226.3 283.2 218.4 283.2 218.4 281.5 Z"/>
<path d="M 204.7 304.4 L 207.5 302.2 L 211.8 303.2 L 213.2 305.8 L 212.8 310.0 L 213.9 312.1 L 212.5 317.8 L 208.2 318.5 L 204.7 316.4 Z" class="k"/>
<path d="M 205.4 310.0 C 205.1 307.9 207.5 306.9 208.9 308.6 C 209.9 310.7 208.2 313.5 206.5 312.5"/>
<path d="M 206.8 310.7 L 207.5 311.4"/>
<path d="M 189.9 310.0 L 189.9 348.1 C 189.9 352.4 192.7 354.5 196.2 355.2 L 222.4 363.6 C 224.0 364.4 225.5 363.4 225.5 360.8 L 225.3 310.0" class="k"/>
<path d="M 192.0 310.0 L 192.0 347.4 C 192.0 350.9 194.1 352.4 196.9 353.1 L 220.9 360.8 C 221.6 361.5 222.6 360.8 222.6 358.7 L 222.5 310.0"/>
<path d="M 196.9 310.0 L 196.9 346.4 C 196.9 349.5 198.4 350.9 200.5 351.5 L 217.8 357.3 C 217.8 357.7 219.0 356.9 219.0 355.2 L 219.0 310.0"/>
<path d="M 196.9 324.1 L 218.1 331.2 M 196.9 326.9 L 218.1 334.0 M 196.9 337.5 L 218.1 344.6 M 196.9 340.4 L 218.1 347.4"/>
<path d="M 218.1 331.2 L 218.1 341.8 M 218.1 344.6 L 218.1 355.2"/>
<path d="M 226.6 319.2 L 241.4 313.5"/>
<path d="M 240.7 332.6 C 243.5 331.2 246.4 334.0 246.4 338.2 C 246.4 342.5 243.5 345.3 240.7 344.6"/>
<path d="M 239.0 333.7 C 240.0 336.8 240.0 341.8 239.0 344.6"/>
<path d="M 246.4 336.8 L 250.0 334.7"/>
<path d="M 180.0 324.1 L 204.7 314.2"/>
<path d="M 222.4 364.4 L 223.8 366.5 L 230.8 368.6 L 231.5 365.8 L 228.0 363.6"/>
<path d="M 221.6 131.9 L 221.9 144.9"/>
<path d="M 233.9 140.4 L 224.0 144.6 C 218.4 147.5 214.1 153.1 212.7 161.6 L 212.0 175.0" class="k"/>
<path d="M 237.4 146.8 L 226.8 151.7 C 222.6 154.5 220.5 158.8 219.8 165.8 L 219.5 175.0" class="k"/>
<path d="M 233.9 140.4 C 236.7 139.7 238.4 143.2 237.4 146.8" class="k"/>
<path d="M 231.8 143.9 L 224.7 147.2 C 220.5 149.6 217.6 153.8 216.7 160.2 L 216.2 175.0" class="dash"/>
<path d="M 244.9 115.0 L 244.9 131.2"/>
<path d="M 240.9 132.6 L 245.2 130.8 L 250.1 133.1 L 253.4 134.8 L 252.9 141.1 L 250.1 143.9 L 245.2 144.9 L 241.6 143.2 L 240.2 139.7 L 240.9 136.2 Z" class="k"/>
<path d="M 242.4 139.0 C 242.4 137.6 243.8 136.9 244.9 137.9 C 245.9 139.3 245.5 141.8 244.0 142.1 C 243.1 142.1 242.4 140.7 242.4 139.0 Z"/>
<path d="M 246.6 134.1 L 247.3 143.9 M 249.4 134.8 L 250.1 143.2 M 245.9 133.4 L 252.2 136.2"/>
<path d="M 211.9 158.5 L 211.9 178.2 C 211.9 180.8 221.1 180.8 221.1 178.2 L 221.1 162.7" class="k"/>
<path d="M 216.5 159.9 L 216.5 177.5" class="dash"/>
<path d="M 207.4 188.8 C 207.0 186.7 209.1 186.0 211.9 186.4 L 214.1 185.6 C 217.6 184.6 221.1 186.0 221.8 188.1 C 222.1 190.9 221.1 194.5 218.3 195.9 L 214.8 196.6 L 211.2 195.9 C 208.4 195.2 207.0 192.4 207.4 188.8 Z" class="k"/>
<path d="M 214.1 185.6 C 213.4 188.1 213.4 193.8 214.8 196.6"/>
<path d="M 208.8 188.8 L 213.4 188.1 M 208.8 190.9 L 213.4 190.2 M 208.8 193.1 L 213.4 192.4"/>
<path d="M 216.2 187.4 C 217.6 187.0 219.0 188.8 218.7 190.9 C 218.3 193.1 216.9 193.8 216.2 192.4"/>
<path d="M 221.8 188.1 L 235.2 188.1"/>
<path d="M 214.5 207.0 L 214.5 204.2 C 214.5 202.3 218.8 202.3 218.8 204.2 L 218.8 207.0 C 218.8 208.0 214.5 208.0 214.5 207.0 Z"/>
<path d="M 215.1 207.7 L 215.1 215.5 M 218.2 207.7 L 218.2 215.5"/>
<path d="M 210.6 217.3 C 210.6 214.8 222.6 214.8 222.6 217.3 L 222.6 219.7 C 222.6 222.5 210.6 222.5 210.6 219.7 Z" class="k"/>
<path d="M 211.0 217.6 C 212.7 219.3 220.5 219.3 222.2 217.6"/>
<path d="M 213.4 222.5 L 213.4 228.9 C 213.4 231.7 214.8 233.1 216.7 233.4 C 219.1 233.1 220.5 231.7 220.5 228.9 L 220.5 222.5"/>
<path d="M 213.6 227.8 C 215.2 229.2 218.6 229.2 220.3 227.8"/>
<path d="M 222.6 218.3 L 236.0 218.3"/>
<path d="M 216.7 233.8 L 216.7 239.9"/>
<path d="M 210.6 242.3 C 210.6 239.5 222.9 239.5 222.9 242.3 C 222.9 245.1 210.6 245.1 210.6 242.3 Z" class="k"/>
<path d="M 214.1 242.0 C 214.1 240.9 219.2 240.9 219.2 242.0 C 219.2 243.0 214.1 243.0 214.1 242.0 Z"/>
<path d="M 211.0 243.7 L 211.9 247.5 C 213.0 250.8 215.0 252.2 216.7 252.2 C 218.9 252.2 220.9 250.8 221.9 247.5 L 222.6 243.7" class="k"/>
<path d="M 213.0 247.9 L 220.5 247.9 M 213.4 250.1 L 219.8 250.1 M 214.1 251.8 L 219.2 251.8" class="k"/>
<path d="M 222.9 244.1 L 237.4 244.1"/>
<path d="M 274.8 105.0 L 274.8 120.2"/>
<path d="M 259.5 131.4 C 259.1 129.7 260.8 128.5 262.8 128.9 C 264.9 129.7 265.7 132.2 264.9 134.6 C 263.6 136.7 260.8 136.3 259.8 134.2 Z" class="k"/>
<path d="M 260.8 132.2 C 260.8 130.9 262.0 130.5 262.8 131.2 C 263.5 132.2 263.2 133.8 262.2 134.2 C 261.4 134.2 260.8 133.4 260.8 132.2 Z"/>
<path d="M 264.1 129.7 L 273.9 125.8 M 265.3 133.8 L 276.0 129.7" class="k"/>
<path d="M 272.3 122.7 L 275.2 120.5 L 278.9 121.1 L 281.4 122.7 L 281.8 128.1 L 279.7 131.8 L 276.4 132.2 L 273.5 130.5 L 272.3 127.2 Z" class="k"/>
<path d="M 276.0 122.7 L 277.2 129.7 M 278.9 121.5 L 279.7 128.9"/>
<path d="M 281.4 121.9 L 292.9 116.5 C 294.7 116.1 296.0 119.0 294.9 121.1 L 283.4 126.6" class="k"/>
<path d="M 284.6 121.5 L 285.9 125.6 M 286.7 120.5 L 287.9 124.8 M 288.8 119.7 L 290.0 123.9 M 290.8 118.7 L 292.1 123.1 M 292.5 118.0 L 293.5 122.1"/>
<path d="M 295.4 118.6 L 305.0 114.1"/>
<path d="M 112.7 348.1 L 117.5 346.5 L 120.6 348.6 L 121.7 352.8 L 119.6 357.1 L 114.8 358.6 L 111.1 358.1 L 108.5 354.9 L 108.5 351.2 Z" class="k"/>
<path d="M 108.3 353.9 C 107.9 351.2 110.1 350.2 112.2 350.9 C 114.3 352.0 114.8 355.5 113.2 357.6 C 111.4 359.0 108.7 357.1 108.3 353.9 Z"/>
<path d="M 115.4 347.3 L 115.9 351.8 L 114.3 357.1 M 118.0 347.0 L 119.6 351.8 L 117.5 357.6"/>
<path d="M 121.2 349.4 L 132.3 344.1 C 133.7 343.8 134.4 346.5 133.7 347.7 L 122.4 352.3" class="k"/>
<path d="M 123.3 349.1 L 124.6 351.6 M 125.4 348.2 L 126.7 350.7 M 127.5 347.1 L 128.8 349.9 M 129.6 346.0 L 130.9 348.8"/>
<path d="M 133.9 345.4 L 160.0 332.7"/>
<path d="M 160.0 332.7 L 204.7 314.2"/>
<path d="M 185.6 374.1 L 190.0 372.4 L 193.5 373.6 L 195.3 377.6 L 194.1 381.7 L 190.0 383.5 L 185.9 382.4 L 183.8 378.5 Z" class="k"/>
<path d="M 184.2 378.5 C 183.8 375.9 185.6 374.6 187.4 375.4 C 189.1 376.8 189.1 380.3 187.7 382.1 C 185.9 382.9 184.4 381.2 184.2 378.5 Z"/>
<path d="M 194.4 374.1 L 203.2 371.5 C 205.0 371.5 205.4 374.1 204.1 375.0 L 195.3 378.5" class="k"/>
<path d="M 197.1 373.2 L 197.9 376.8 M 199.4 372.5 L 200.2 376.1 M 201.5 371.8 L 202.4 375.4"/>
<path d="M 205.0 372.4 L 217.4 366.5"/>
<path d="M 192.3 383.5 L 192.3 395.3"/>
<path d="M 230.6 369.7 L 230.6 388.2 L 264.1 375.0 L 264.1 362.6"/>
<path d="M 246.5 382.9 L 246.5 391.8"/>
<path d="M 264.1 345.0 L 264.1 347.6"/>
<path d="M 257.4 329.3 C 257.4 325.1 260.2 322.7 263.1 323.2 C 266.4 323.9 268.2 327.4 267.8 331.2 C 267.3 334.7 264.7 336.4 262.1 335.6 C 259.3 334.7 257.4 332.6 257.4 329.3 Z" class="k"/>
<path d="M 259.8 329.3 C 259.8 327.4 261.2 326.2 262.6 326.8 C 263.5 327.9 263.1 328.8 262.4 329.3 C 261.5 330.2 261.6 331.8 262.6 332.6 C 261.2 333.1 259.8 331.5 259.8 329.3 Z"/>
<path d="M 247.1 335.9 L 258.8 331.6"/>
<path d="M 269.2 326.9 L 280.0 321.8"/>
<path d="M 264.0 336.8 L 264.0 347.6"/>
<path d="M 116.6 366.2 L 122.4 366.2 L 122.4 374.9 L 126.8 374.9 L 119.7 381.6 L 112.6 374.9 L 116.6 374.9 Z" class="ar"/>
</g>
<g fill="none" stroke="#000" stroke-width="1.8" stroke-linecap="round" stroke-linejoin="round">
<path d="M 51.70 183.28 C 52.70 182.98 53.70 182.29 54.10 181.30 L 54.10 189.40 M 59.20 183.28 C 60.20 182.98 61.20 182.29 61.60 181.30 L 61.60 189.40"/>
<path d="M 95.60 209.28 C 96.60 208.98 97.60 208.29 98.00 207.30 L 98.00 215.40 M 102.55 209.47 C 102.75 208.09 103.65 207.30 104.95 207.30 C 106.45 207.30 107.35 208.19 107.35 209.37 C 107.35 210.56 106.45 211.25 104.85 211.25 M 104.85 211.25 C 106.65 211.25 107.65 212.14 107.65 213.33 C 107.65 214.71 106.55 215.40 104.95 215.40 C 103.45 215.40 102.45 214.61 102.25 213.23"/>
<path d="M 135.90 190.38 C 136.90 190.08 137.90 189.39 138.30 188.40 L 138.30 196.50 M 143.40 190.38 C 144.40 190.08 145.40 189.39 145.80 188.40 L 145.80 196.50"/>
<path d="M 163.40 183.30 L 168.80 183.30 C 167.20 185.28 165.70 188.24 165.40 191.40"/>
<path d="M 144.00 250.60 L 140.00 250.60 L 139.50 254.45 C 140.10 253.86 140.80 253.66 141.70 253.66 C 143.40 253.66 144.40 254.75 144.40 256.13 C 144.40 257.71 143.30 258.70 141.70 258.70 C 140.20 258.70 139.30 257.91 139.10 256.82"/>
<path d="M 224.00 123.68 C 223.70 122.49 222.80 121.80 221.70 121.80 C 219.90 121.80 219.00 123.58 219.00 126.05 C 219.00 128.52 220.00 129.90 221.70 129.90 C 223.30 129.90 224.30 128.81 224.30 127.23 C 224.30 125.65 223.30 124.76 221.70 124.76 C 220.20 124.76 219.10 125.65 219.00 127.04"/>
<path d="M 238.60 109.28 C 239.60 108.98 240.60 108.29 241.00 107.30 L 241.00 115.40 M 246.10 109.28 C 247.10 108.98 248.10 108.29 248.50 107.30 L 248.50 115.40"/>
<path d="M 272.80 100.38 C 273.80 100.08 274.80 99.39 275.20 98.40 L 275.20 106.50"/>
<path d="M 238.70 186.18 C 239.70 185.88 240.70 185.19 241.10 184.20 L 241.10 192.30 M 246.20 186.18 C 247.20 185.88 248.20 185.19 248.60 184.20 L 248.60 192.30"/>
<path d="M 243.50 222.00 L 243.50 213.90 L 239.50 219.53 L 245.00 219.53"/>
<path d="M 242.20 242.07 C 242.40 240.69 243.30 239.90 244.60 239.90 C 246.10 239.90 247.00 240.79 247.00 241.97 C 247.00 243.16 246.10 243.85 244.50 243.85 M 244.50 243.85 C 246.30 243.85 247.30 244.74 247.30 245.93 C 247.30 247.31 246.20 248.00 244.60 248.00 C 243.10 248.00 242.10 247.21 241.90 245.83"/>
<path d="M 258.90 354.68 C 259.90 354.38 260.90 353.69 261.30 352.70 L 261.30 360.80 M 268.25 352.70 C 266.45 352.70 265.55 354.48 265.55 356.75 C 265.55 359.02 266.45 360.80 268.25 360.80 C 270.05 360.80 270.95 359.02 270.95 356.75 C 270.95 354.48 270.05 352.70 268.25 352.70 Z"/>
<path d="M 186.70 402.08 C 187.70 401.78 188.70 401.09 189.10 400.10 L 189.10 408.20 M 197.35 408.20 L 197.35 400.10 L 193.35 405.73 L 198.85 405.73"/>
<path d="M 244.40 399.17 C 244.40 397.69 245.50 396.80 246.90 396.80 C 248.40 396.80 249.40 397.69 249.40 399.07 C 249.40 400.36 248.50 401.05 247.10 401.84 C 245.50 402.73 244.40 403.62 244.30 404.90 L 249.60 404.90"/>
<path d="M 752.50 111.88 C 753.50 111.58 754.50 110.89 754.90 109.90 L 754.90 118.00 M 759.35 112.27 C 759.35 110.79 760.45 109.90 761.85 109.90 C 763.35 109.90 764.35 110.79 764.35 112.17 C 764.35 113.46 763.45 114.15 762.05 114.94 C 760.45 115.83 759.35 116.72 759.25 118.00 L 764.55 118.00"/>
<path d="M 752.30 139.12 C 752.60 140.31 753.50 141.00 754.60 141.00 C 756.40 141.00 757.30 139.22 757.30 136.75 C 757.30 134.28 756.30 132.90 754.60 132.90 C 753.00 132.90 752.00 133.99 752.00 135.57 C 752.00 137.15 753.00 138.04 754.60 138.04 C 756.00 138.04 757.10 137.15 757.20 135.76"/>
<path d="M 752.00 162.98 C 753.00 162.68 754.00 161.99 754.40 161.00 L 754.40 169.10 M 758.85 163.37 C 758.85 161.89 759.95 161.00 761.35 161.00 C 762.85 161.00 763.85 161.89 763.85 163.27 C 763.85 164.56 762.95 165.25 761.55 166.04 C 759.95 166.93 758.85 167.82 758.75 169.10 L 764.05 169.10"/>
<path d="M 754.60 198.75 C 753.20 198.75 752.40 197.96 752.40 196.88 C 752.40 195.69 753.30 194.90 754.60 194.90 C 755.90 194.90 756.80 195.69 756.80 196.88 C 756.80 197.96 756.00 198.75 754.60 198.75 C 753.00 198.75 752.00 199.64 752.00 200.93 C 752.00 202.21 753.00 203.00 754.60 203.00 C 756.20 203.00 757.20 202.21 757.20 200.93 C 757.20 199.64 756.20 198.75 754.60 198.75 Z"/>
<path stroke-width="1.9" d="M104.6,386.85 L99.75,386.85 L99.75,395.25 L104.6,395.25 M99.75,391 L104.1,391 M109.3,391.2 L112.7,391.2 M126.9,391.2 L130.3,391.2 M 116.45 389.12 C 116.65 387.67 117.55 386.85 118.85 386.85 C 120.35 386.85 121.25 387.78 121.25 389.01 C 121.25 390.25 120.35 390.97 118.75 390.97 M 118.75 390.97 C 120.55 390.97 121.55 391.90 121.55 393.14 C 121.55 394.58 120.45 395.30 118.85 395.30 C 117.35 395.30 116.35 394.48 116.15 393.03 M 135.05 389.32 C 135.05 387.78 136.15 386.85 137.55 386.85 C 139.05 386.85 140.05 387.78 140.05 389.22 C 140.05 390.56 139.15 391.28 137.75 392.11 C 136.15 393.03 135.05 393.96 134.95 395.30 L 140.25 395.30"/>
</g>
<!--E32-->
<text transform="translate(779.4,51.2) rotate(-28)" style="font-family:'Liberation Sans',sans-serif;font-weight:bold;font-size:13.2px;letter-spacing:1.3px;stroke:#000;stroke-width:0.7" fill="#000">FR.</text>
<path d="M798.2,30.5 L813.7,23 L813.7,19.2 L825,22.8 L822,33.8 L819.5,32 L802.5,39.9 Z" fill="#000" stroke="#000" stroke-width="0.6" stroke-linejoin="miter"/>
<text x="665.2 672.7 680.2 687.7 695.2 702.7 710.2 717.7 725.2 732.7" y="416.6" text-anchor="middle" style="font-family:'Liberation Serif',serif;font-size:11px;stroke:#000;stroke-width:0.28">S1E7–E0801</text>
</svg>
</body></html>
